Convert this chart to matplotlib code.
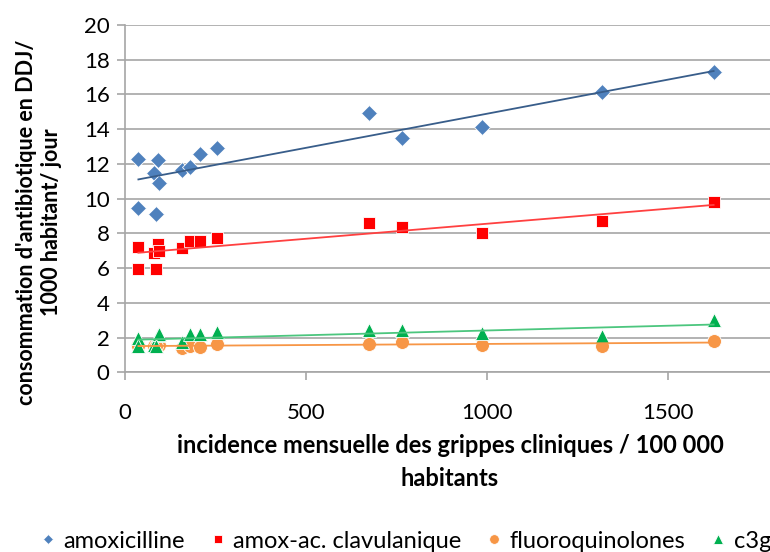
import numpy as np
import matplotlib.pyplot as plt

plt.rcParams['font.family'] = ['Lato', 'DejaVu Sans']

# monthly flu incidence per 100 000 inhabitants
incidence = [37, 37, 90, 81, 95, 86, 157, 180, 207, 255, 675, 764, 987, 1317, 1626]

# antibiotic consumption (DDJ / 1000 inhabitants / day)
amoxicilline = [12.28, 9.47, 12.22, 11.45, 10.88, 9.14, 11.64, 11.83, 12.55, 12.93,
                14.91, 13.50, 14.10, 16.17, 17.27]
amox_clav = [7.22, 5.92, 7.38, 6.88, 7.00, 5.92, 7.13, 7.55, 7.55, 7.76,
             8.57, 8.34, 8.03, 8.70, 9.82]
fluoroquinolones = [1.55, 1.50, 1.55, 1.50, 1.55, 1.50, 1.42, 1.50, 1.48, 1.62,
                    1.64, 1.72, 1.58, 1.52, 1.80]
c3g = [2.00, 1.50, 2.12, 1.55, 2.18, 1.52, 1.72, 2.18, 2.18, 2.32,
       2.45, 2.45, 2.25, 2.10, 3.00]

series = [
    ('amoxicilline', amoxicilline, 'D', '#4F81BD', '#385D8A', 8),
    ('amox-ac. clavulanique', amox_clav, 's', '#FF0000', '#FF4040', 9),
    ('fluoroquinolones', fluoroquinolones, 'o', '#F79646', '#F79646', 10),
    ('c3g', c3g, '^', '#00B050', '#4CC67E', 10),
]

fig = plt.figure(figsize=(7.7, 5.52), dpi=100)
ax = fig.add_axes([125 / 770, 179.7 / 552, 651.6 / 770, 347.3 / 552])

x = np.array(incidence, dtype=float)
xs = np.array([x.min(), x.max()])
for name, vals, mk, col, lcol, ms in series:
    ax.plot(x, vals, linestyle='none', marker=mk, color=col, markersize=ms,
            markeredgecolor='white', markeredgewidth=0.6, label=name, zorder=3)
    # linear trend line
    a, b = np.polyfit(x, vals, 1)
    ax.plot(xs, a * xs + b, color=lcol, linewidth=1.3, zorder=4)

ax.set_xlim(0, 1800)
ax.set_ylim(0, 20)
ax.set_xticks([0, 500, 1000, 1500])
ax.set_yticks(range(0, 21, 2))
ax.yaxis.grid(True, color='#A6A6A6', linewidth=1.2)
ax.set_axisbelow(True)
for side in ['top', 'right']:
    ax.spines[side].set_visible(False)
for side in ['left', 'bottom']:
    ax.spines[side].set_color('#A6A6A6')
    ax.spines[side].set_linewidth(1.2)
ax.tick_params(axis='both', colors='#A6A6A6', labelcolor='black', labelsize=16, length=6, width=1.2)
ax.tick_params(axis='x', pad=16)
ax.tick_params(axis='y', pad=5)

fig.text(450 / 770, 1 - 462 / 552,
         'incidence mensuelle des grippes cliniques / 100 000\nhabitants',
         ha='center', va='center', fontsize=17, fontweight='bold', linespacing=1.55)
fig.text(39 / 770, 1 - 222 / 552,
         "consommation d'antibiotique en DDJ/\n1000 habitant/ jour",
         ha='center', va='center', rotation=90, fontsize=15.5, fontweight='bold',
         linespacing=1.25)

fig.legend(loc='center left', bbox_to_anchor=(30 / 770, 1 - 541 / 552), ncol=4,
           frameon=False, fontsize=17, handlelength=0.7, handletextpad=0.3,
           columnspacing=1.05, markerscale=0.7, borderaxespad=0)

fig.savefig('out.png', dpi=100)
